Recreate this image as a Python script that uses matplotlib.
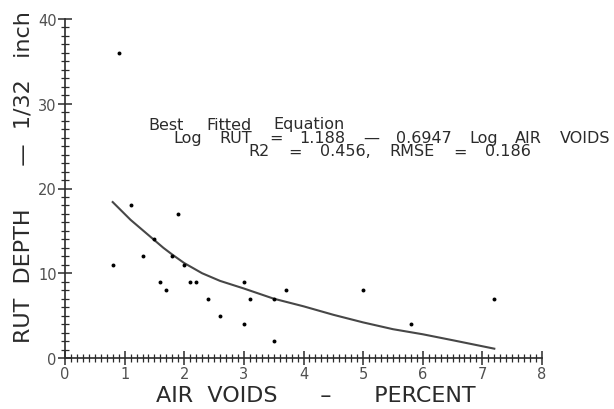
import matplotlib
matplotlib.use('Agg')
import matplotlib.pyplot as plt
from matplotlib.ticker import MultipleLocator

# measured rut depth vs air voids
air_voids = [0.8, 0.9, 1.1, 1.3, 1.5, 1.6, 1.7, 1.8, 1.9, 2.0, 2.1, 2.2,
             2.4, 2.6, 3.0, 3.0, 3.1, 3.5, 3.5, 3.7, 5.0, 5.8, 7.2]
rut_depth = [11, 36, 18, 12, 14, 9, 8, 12, 17, 11, 9, 9,
             7, 5, 9, 4, 7, 7, 2, 8, 8, 4, 7]

# fitted curve as drawn on the original
fit_x = [0.8, 0.9, 1.0, 1.1, 1.25, 1.4, 1.5, 1.65, 1.8, 2.0, 2.3, 2.6, 3.0,
         3.5, 4.0, 4.5, 5.0, 5.5, 6.0, 6.5, 7.2]
fit_y = [18.4, 17.7, 17.0, 16.3, 15.4, 14.5, 13.9, 13.0, 12.2, 11.2, 10.0,
         9.1, 8.2, 7.0, 6.1, 5.1, 4.2, 3.4, 2.8, 2.1, 1.1]

eq_line1 = ['Best', 'Fitted', 'Equation']
eq_line2 = ['Log', 'RUT', '=', '1.188', '\u2014', '0.6947', 'Log', 'AIR', 'VOIDS']
eq_line3 = ['R2', '=', '0.456,', 'RMSE', '=', '0.186']

ink = '#2b2b2b'
W, H = 614, 410

fig = plt.figure(figsize=(6.14, 4.10), dpi=100)
ax = fig.add_axes([65 / W, 1 - 359 / H, 477 / W, 339 / H])

ax.scatter(air_voids, rut_depth, s=8, color='black', zorder=3, linewidths=0)
ax.plot(fit_x, fit_y, color='#474747', linewidth=1.5)

ax.set_xlim(0, 8)
ax.set_ylim(0, 40)
ax.spines['top'].set_visible(False)
ax.spines['right'].set_visible(False)
for s in ('left', 'bottom'):
    ax.spines[s].set_color(ink)
    ax.spines[s].set_linewidth(1.2)

ax.xaxis.set_major_locator(MultipleLocator(1))
ax.xaxis.set_minor_locator(MultipleLocator(0.1))
ax.yaxis.set_major_locator(MultipleLocator(10))
ax.yaxis.set_minor_locator(MultipleLocator(1))
ax.tick_params(which='major', direction='inout', length=10, width=1.1,
               color=ink, labelsize=10.5, labelcolor='#505050', pad=1)
ax.tick_params(which='minor', direction='inout', length=6, width=0.9, color=ink)

fig.text(316 / W, 1 - 396 / H, 'AIR  VOIDS      \u2013      PERCENT',
         ha='center', va='center', fontsize=16, color=ink)
fig.text(24 / W, 1 - 177 / H, 'RUT  DEPTH      \u2014  1/32   inch', rotation=90,
         ha='center', va='center', fontsize=16, color=ink)

# equation block: words spread evenly over the span each line has on the
# original (the plotter lettering is much wider than DejaVu)
renderer = fig.canvas.get_renderer()
spans = [(148, 345), (173, 610), (248, 531)]
baselines = [129.5, 143, 156.5]
for words, (x0, x1), yb in zip([eq_line1, eq_line2, eq_line3], spans, baselines):
    texts = [fig.text(0, 1 - yb / H, w, ha='left', va='baseline',
                      fontsize=11.5, color=ink) for w in words]
    widths = [t.get_window_extent(renderer).width for t in texts]
    gap = (x1 - x0 - sum(widths)) / (len(words) - 1)
    x = x0
    for t, wd in zip(texts, widths):
        t.set_x(x / W)
        x += wd + gap

fig.savefig('out.png', dpi=100)
